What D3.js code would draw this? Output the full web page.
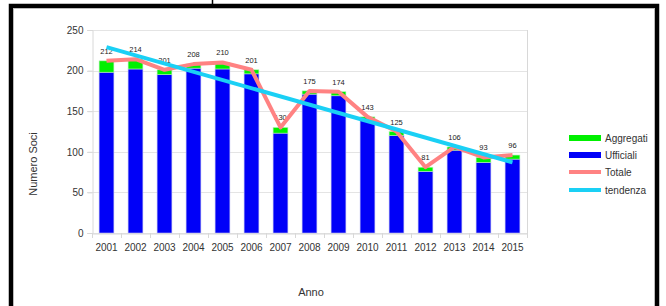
<!DOCTYPE html>
<html>
<head>
<meta charset="utf-8">
<script src="https://cdn.jsdelivr.net/npm/d3@7"></script>
<style>
html,body{margin:0;padding:0;background:#fff;}
svg{display:block;font-family:"Liberation Sans",Arial,sans-serif;}
</style>
</head>
<body>
<svg id="c" width="666" height="306"></svg>
<script>
const years = ["2001","2002","2003","2004","2005","2006","2007","2008","2009","2010","2011","2012","2013","2014","2015"];
const ufficiali = [198,202,195,203,202,196,123,171,169,139,120,76,102,87,91];
const aggregati = [14,12,6,5,8,5,7,4,5,4,5,5,4,6,5];
const totale = [212,214,201,208,210,201,130,175,174,143,125,81,106,93,96];
const tendenzaYears = ["2001","2015"];
const tendenza = [229,87];
const yTicks = [0,50,100,150,200,250];
const legendItems = [
  {name:"Aggregati", type:"rect", color:"#00f000"},
  {name:"Ufficiali", type:"rect", color:"#0000f8"},
  {name:"Totale", type:"line", color:"#ff8282"},
  {name:"tendenza", type:"line", color:"#1ad0f5"}
];

const svg = d3.select("#c");

// outer frame
svg.append("rect").attr("x",11).attr("y",6).attr("width",646).attr("height",320)
  .attr("fill","none").attr("stroke","#000").attr("stroke-width",4.5);
svg.append("rect").attr("x",13.5).attr("y",8.5).attr("width",641).attr("height",320)
  .attr("fill","none").attr("stroke","#bbb").attr("stroke-width",1);
svg.append("line").attr("x1",212.5).attr("x2",212.5).attr("y1",0).attr("y2",5)
  .attr("stroke","#000").attr("stroke-width",1.5);

const x = d3.scaleBand().domain(years).range([92,527]).paddingInner(0.49).paddingOuter(0.245);
const y = d3.scaleLinear().domain([0,250]).range([233,30]);

// gridlines
svg.append("g").selectAll("line").data(yTicks).join("line")
  .attr("x1",87).attr("x2",527)
  .attr("y1",d=>Math.round(y(d))+0.5).attr("y2",d=>Math.round(y(d))+0.5)
  .attr("stroke","#e4e4e4").attr("stroke-width",1);
svg.append("line").attr("x1",527.5).attr("x2",527.5).attr("y1",30).attr("y2",233)
  .attr("stroke","#d8d8d8");

// y axis
const yAxis = svg.append("g").attr("transform","translate(92.5,0)")
  .call(d3.axisLeft(y).tickValues(yTicks).tickSize(5).tickPadding(4));
yAxis.select(".domain").attr("stroke","#d8d8d8");
yAxis.selectAll(".tick line").attr("stroke","#d8d8d8");
yAxis.selectAll("text").attr("font-size",10).attr("fill","#333")
  .attr("font-family","Liberation Sans, Arial, sans-serif");

// x axis
const xAxis = svg.append("g").attr("transform","translate(0,233.5)")
  .call(d3.axisBottom(x).tickSize(0).tickPadding(10));
xAxis.select(".domain").attr("stroke","#d8d8d8");
xAxis.selectAll("text").attr("font-size",10).attr("fill","#333")
  .attr("font-family","Liberation Sans, Arial, sans-serif");
const step = x.step();
svg.append("g").selectAll("line").data(d3.range(years.length+1)).join("line")
  .attr("x1",i=>92.5+i*step).attr("x2",i=>92.5+i*step)
  .attr("y1",233).attr("y2",238).attr("stroke","#d8d8d8");

// bars
const bars = svg.append("g");
bars.selectAll("rect.u").data(years).join("rect").attr("class","u")
  .attr("x",d=>x(d)).attr("width",x.bandwidth())
  .attr("y",(d,i)=>y(ufficiali[i])).attr("height",(d,i)=>y(0)-y(ufficiali[i]))
  .attr("fill",legendItems[1].color).attr("stroke","#b9b9f0").attr("stroke-width",0.6);
bars.selectAll("rect.a").data(years).join("rect").attr("class","a")
  .attr("x",d=>x(d)).attr("width",x.bandwidth())
  .attr("y",(d,i)=>y(ufficiali[i]+aggregati[i])).attr("height",(d,i)=>y(ufficiali[i])-y(ufficiali[i]+aggregati[i]))
  .attr("fill",legendItems[0].color).attr("stroke","#b9f0b9").attr("stroke-width",0.6);

// data labels
svg.append("g").selectAll("text").data(years).join("text")
  .attr("x",d=>x(d)+x.bandwidth()/2).attr("y",(d,i)=>y(totale[i])-7)
  .attr("text-anchor","middle").attr("font-size",7.5).attr("fill","#222")
  .text((d,i)=>totale[i]);

const cx = d=>x(d)+x.bandwidth()/2;
svg.append("path").datum(years)
  .attr("d",d3.line().x(d=>cx(d)).y((d,i)=>y(totale[i])))
  .attr("fill","none").attr("stroke",legendItems[2].color).attr("stroke-width",4)
  .attr("stroke-linejoin","round");

svg.append("path").datum(tendenzaYears)
  .attr("d",d3.line().x(d=>cx(d)).y((d,i)=>y(tendenza[i])))
  .attr("fill","none").attr("stroke",legendItems[3].color).attr("stroke-width",4);

// axis titles
svg.append("text").attr("transform","translate(37,164) rotate(-90)")
  .attr("text-anchor","middle").attr("font-size",11).attr("fill","#333").text("Numero Soci");
svg.append("text").attr("x",311).attr("y",296)
  .attr("text-anchor","middle").attr("font-size",11).attr("fill","#333").text("Anno");

// legend
const lg = svg.append("g");
const rowY = [138,155,172,190];
legendItems.forEach((it,i)=>{
  if(it.type==="rect"){
    lg.append("rect").attr("x",569).attr("y",rowY[i]-3).attr("width",32).attr("height",6).attr("fill",it.color);
  } else {
    lg.append("line").attr("x1",569).attr("x2",601).attr("y1",rowY[i]).attr("y2",rowY[i])
      .attr("stroke",it.color).attr("stroke-width",4);
  }
  lg.append("text").attr("x",605).attr("y",rowY[i]+3.5).attr("font-size",10).attr("fill","#333").text(it.name);
});
</script>
</body>
</html>
